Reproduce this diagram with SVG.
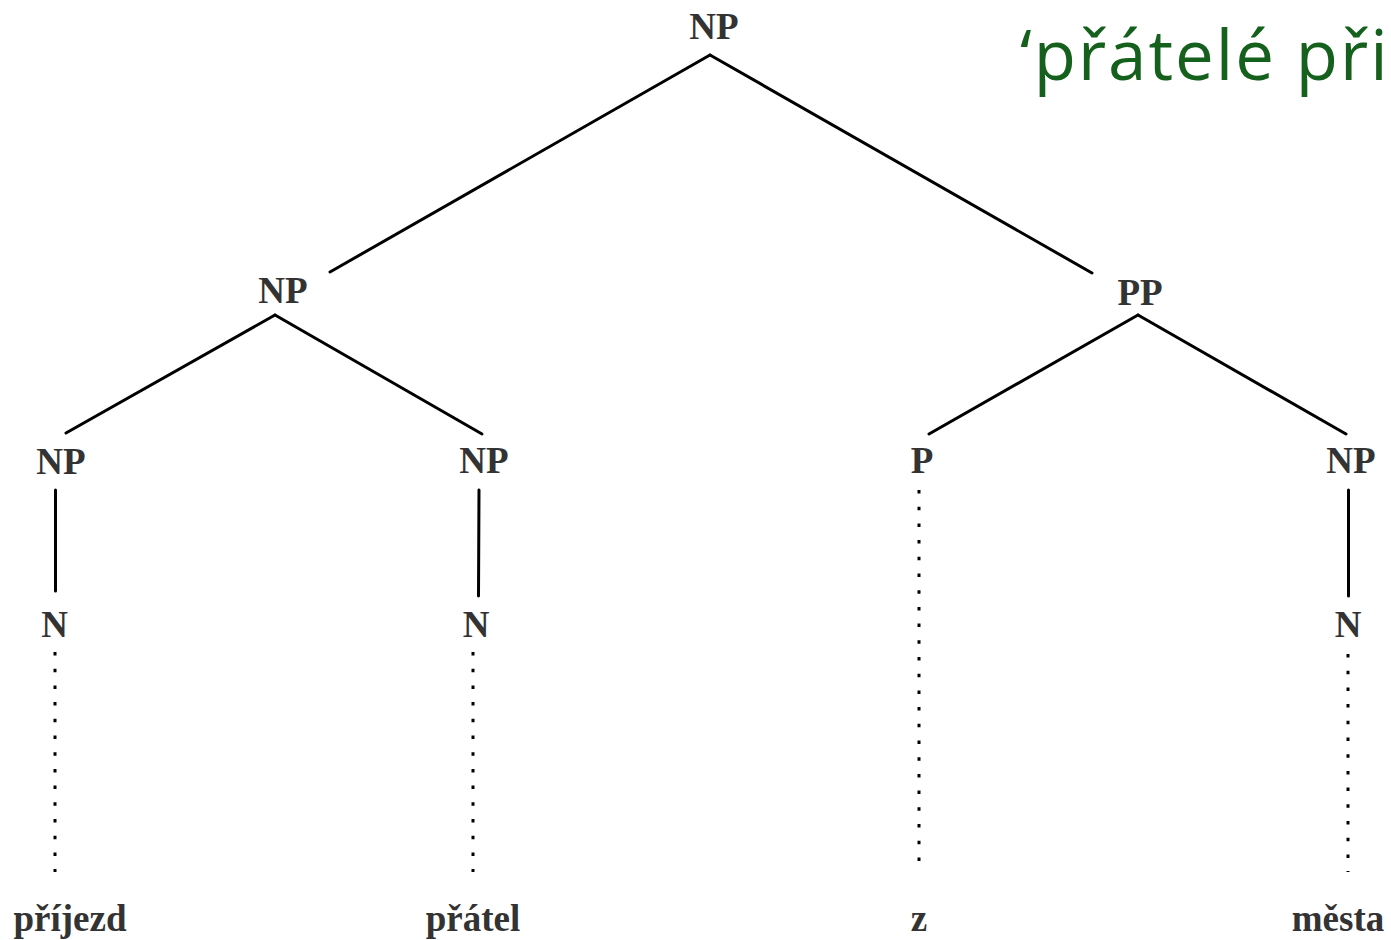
<svg xmlns="http://www.w3.org/2000/svg" width="1391" height="940" viewBox="0 0 1391 940">
<style>
.lbl{font-family:"Liberation Serif","Times New Roman",serif;font-weight:bold;font-size:37px;fill:#333;text-anchor:middle}
.edge{stroke:#000;stroke-width:3;fill:none;stroke-linecap:round}
.dot{stroke:#000;stroke-width:3;fill:none;stroke-dasharray:3.5 13.2}
.gloss{font-family:"Open Sans","Noto Sans",sans-serif;font-size:69px;fill:#15601d;letter-spacing:2px}
</style>
<rect width="1391" height="940" fill="#fff"/>
<g id="connectors">
<line class="edge" x1="710" y1="55" x2="330" y2="272"/>
<line class="edge" x1="710" y1="55" x2="1092" y2="273"/>
<line class="edge" x1="275" y1="315" x2="66" y2="433"/>
<line class="edge" x1="275" y1="315" x2="482" y2="434"/>
<line class="edge" x1="1138" y1="315" x2="929" y2="434"/>
<line class="edge" x1="1138" y1="315" x2="1346" y2="434"/>
<line class="edge" x1="55.5" y1="490" x2="55.5" y2="591"/>
<line class="edge" x1="479" y1="490" x2="478.5" y2="596"/>
<line class="edge" x1="1348.5" y1="490" x2="1348.5" y2="596"/>
<line class="dot" x1="55" y1="652" x2="55" y2="872"/>
<line class="dot" x1="473" y1="652" x2="473" y2="872"/>
<line class="dot" x1="919" y1="490" x2="919" y2="872"/>
<line class="dot" x1="1348" y1="654" x2="1348" y2="872"/>
</g>
<g id="n-root"><text class="lbl" x="714" y="39">NP</text></g>
<g id="n-np1"><text class="lbl" x="283" y="303">NP</text></g>
<g id="n-pp"><text class="lbl" x="1140" y="305">PP</text></g>
<g id="n-np2"><text class="lbl" x="61" y="474">NP</text></g>
<g id="n-np3"><text class="lbl" x="484" y="473">NP</text></g>
<g id="n-p"><text class="lbl" x="922" y="473">P</text></g>
<g id="n-np4"><text class="lbl" x="1351" y="473">NP</text></g>
<g id="n-n1"><text class="lbl" x="54.5" y="637">N</text></g>
<g id="n-n2"><text class="lbl" x="476" y="637">N</text></g>
<g id="n-n3"><text class="lbl" x="1348" y="637">N</text></g>
<g id="w-prijezd"><text class="lbl" x="70" y="931">příjezd</text></g>
<g id="w-pratel"><text class="lbl" x="473" y="931">přátel</text></g>
<g id="w-z"><text class="lbl" x="919" y="931">z</text></g>
<g id="w-mesta"><text class="lbl" x="1338" y="931">města</text></g>
<g id="gloss"><text class="gloss" x="1020" y="80">‘přátelé při</text></g>
</svg>
